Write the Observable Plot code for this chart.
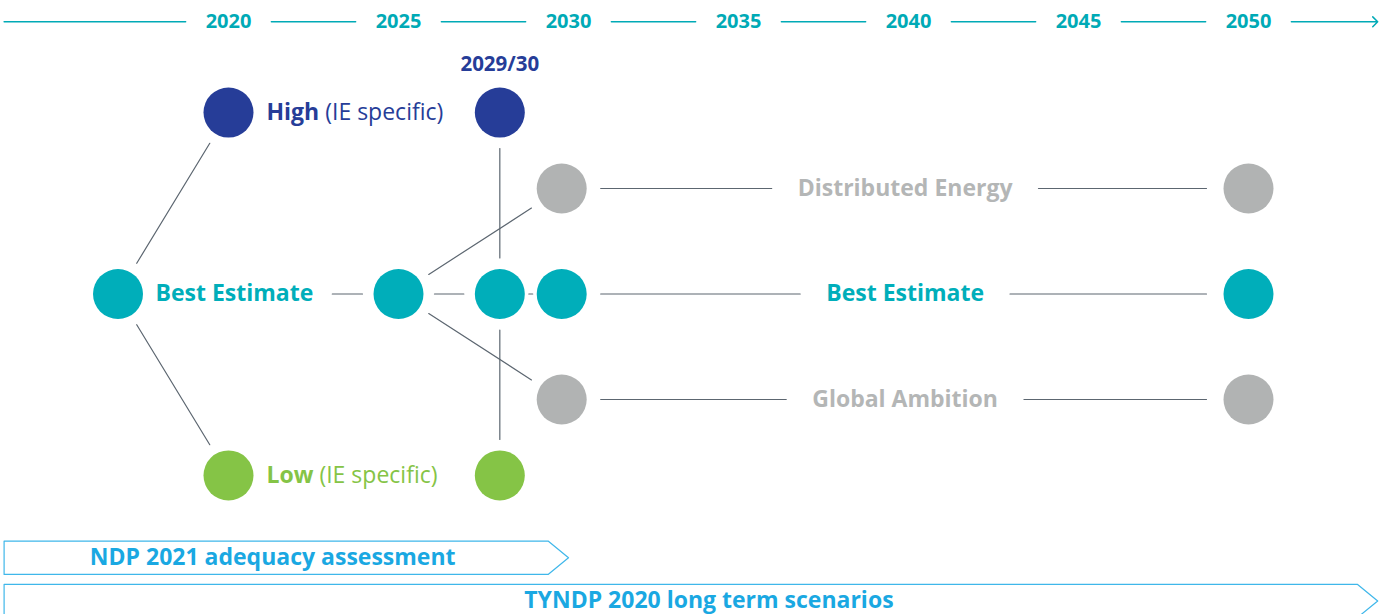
<!DOCTYPE html>
<html>
<head>
<meta charset="utf-8">
<script src="https://cdn.jsdelivr.net/npm/d3@7"></script>
<script src="https://cdn.jsdelivr.net/npm/@observablehq/plot@0.6"></script>
<style>
  html, body { margin: 0; padding: 0; background: #ffffff; overflow: hidden; }
  #chart svg { display: block; }
</style>
</head>
<body>
<div id="chart"></div>
<script>
// ---------- data ----------
const tickYears = [2020, 2025, 2030, 2035, 2040, 2045, 2050];
const timelineStart = 2013.4;
const timelineEnd = 2053.8;
const timelineLevel = 2.58;

// scenario nodes (x = position in years, level = row)
const nodeIds     = ["BE0", "H20", "L20", "BE25", "H29", "BE29", "L29", "DE30", "BE30", "GA30", "DE50", "BE50", "GA50"];
const nodeYears   = [2016.75, 2020, 2020, 2025, 2027.98, 2027.98, 2027.98, 2029.8, 2029.8, 2029.8, 2050, 2050, 2050];
const nodeLevels  = [0, 1.72, -1.72, 0, 1.72, 0, -1.72, 1, 0, -1, 1, 0, -1];
const nodeGroups  = ["best", "high", "low", "best", "high", "best", "low", "grey", "best", "grey", "grey", "best", "grey"];

// connections between nodes
const shortFrom = ["BE0", "BE0", "BE25", "H29", "BE29", "BE25", "BE25"];
const shortTo   = ["H20", "L20", "BE29", "BE29", "L29", "DE30", "GA30"];
const tinyFrom  = ["BE29"];
const tinyTo    = ["BE30"];
const longFrom  = ["DE30", "BE30", "GA30"];
const longTo    = ["DE50", "BE50", "GA50"];
const longLabels = ["Distributed Energy", "Best Estimate", "Global Ambition"];
const longGroups = ["grey", "best", "grey"];

// labels next to nodes
const sideNodes  = ["H20", "L20"];
const sideBold   = ["High", "Low"];
const sideRest   = ["(IE specific)", "(IE specific)"];
const sideGroups = ["high", "low"];
const startLabelNode = "BE0";
const startLabelTarget = "BE25";
const startLabelText = "Best Estimate";
const columnLabelNode = "H29";
const columnLabelText = "2029/30";

// studies / period arrows
const periodLabels = ["NDP 2021 adequacy assessment", "TYNDP 2020 long term scenarios"];
const periodStart  = [2013.4, 2013.4];
const periodEnd    = [2030, 2053.8];
const periodLevels = [-2.5, -2.91];
const periodLabelX = [2021.3, 2034.13];

// ---------- styles ----------
const colors = {best: "#00aeba", high: "#263d98", low: "#85c446", grey: "#b1b3b3"};
const labelColors = {best: "#00aeba", high: "#263d98", low: "#85c446", grey: "#b4b6b6"};
const teal = "#00aab6";
const lineColor = "#5c6670";
const periodStroke = "#3fb7ea";
const periodText = "#1aa8e2";
const font = "'Open Sans', sans-serif";
const labelSize = 23;
const tickSize = 20;

// text measurement (used to leave gaps in lines around labels)
const ctx = document.createElement("canvas").getContext("2d");
function textWidth(s, weight, size) {
  ctx.font = `${weight} ${size}px "Open Sans"`;
  return ctx.measureText(s).width;
}

// ---------- build tables ----------
const nodes = nodeIds.map((id, i) => ({id, x: nodeYears[i], y: nodeLevels[i], group: nodeGroups[i]}));
const byId = Object.fromEntries(nodes.map(d => [d.id, d]));
const mkEdges = (from, to) => from.map((f, i) => ({x1: byId[f].x, y1: byId[f].y, x2: byId[to[i]].x, y2: byId[to[i]].y}));
const shortEdges = mkEdges(shortFrom, shortTo);
const tinyEdges = mkEdges(tinyFrom, tinyTo);
const longEdges = mkEdges(longFrom, longTo).map((e, i) => ({...e, label: longLabels[i], group: longGroups[i]}));

const line = (data, opts) => Plot.arrow(data, {x1: "x1", y1: "y1", x2: "x2", y2: "y2",
  stroke: lineColor, strokeWidth: 1.2, headLength: 0, ...opts});

// timeline segments broken around the year labels
const tlPoints = [timelineStart, ...tickYears, timelineEnd];
const timelineMarks = tlPoints.slice(0, -1).map((a, i) => {
  const b = tlPoints[i + 1];
  const first = i === 0, last = i === tlPoints.length - 2;
  const halfA = first ? 0 : textWidth(String(a), 700, tickSize) / 2 + 20;
  const halfB = last ? 0 : textWidth(String(b), 700, tickSize) / 2 + 20;
  return Plot.arrow([{x1: a, x2: b, y: timelineLevel}], {x1: "x1", x2: "x2", y1: "y", y2: "y",
    stroke: teal, strokeWidth: 1.5, headLength: last ? 7 : 0, headAngle: 90,
    insetStart: halfA, insetEnd: halfB});
});

// long scenario lines broken around their centered labels
const longMarks = longEdges.flatMap(e => {
  const mid = (e.x1 + e.x2) / 2;
  const gap = textWidth(e.label, 700, labelSize) / 2 + 26;
  return [
    line([{x1: e.x1, y1: e.y1, x2: mid, y2: e.y2}], {insetStart: 39, insetEnd: gap}),
    line([{x1: mid, y1: e.y1, x2: e.x2, y2: e.y2}], {insetStart: gap, insetEnd: 42}),
    Plot.text([{x: mid, y: e.y1}], {x: "x", y: "y", text: () => e.label,
      fill: labelColors[e.group], fontWeight: 700, fontSize: labelSize})
  ];
});

// start label + line to next node
const s0 = byId[startLabelNode], s1 = byId[startLabelTarget];
const startGap = 37.5 + textWidth(startLabelText, 700, labelSize) + 19;
const startMarks = [
  line([{x1: s0.x, y1: s0.y, x2: s1.x, y2: s1.y}], {insetStart: startGap, insetEnd: 36}),
  Plot.text([s0], {x: "x", y: "y", text: () => startLabelText, textAnchor: "start", dx: 37.5,
    fill: labelColors.best, fontWeight: 700, fontSize: labelSize})
];

// side labels (bold word + regular remainder)
const sideMarks = sideNodes.flatMap((id, i) => {
  const n = byId[id];
  const dxRest = 38 + textWidth(sideBold[i], 700, labelSize) + textWidth(" ", 400, labelSize);
  return [
    Plot.text([n], {x: "x", y: "y", text: () => sideBold[i], textAnchor: "start", dx: 38,
      fill: labelColors[sideGroups[i]], fontWeight: 700, fontSize: labelSize}),
    Plot.text([n], {x: "x", y: "y", text: () => sideRest[i], textAnchor: "start", dx: dxRest,
      fill: labelColors[sideGroups[i]], fontWeight: 400, fontSize: labelSize})
  ];
});

// period shapes (arrow-like boxes)
const tipYears = 0.6, halfLevel = 0.158;
const periodPoly = periodLabels.flatMap((label, i) => {
  const a = periodStart[i], b = periodEnd[i], c = periodLevels[i];
  return [
    {label, x: a, y: c + halfLevel},
    {label, x: b - tipYears, y: c + halfLevel},
    {label, x: b, y: c},
    {label, x: b - tipYears, y: c - halfLevel},
    {label, x: a, y: c - halfLevel}
  ];
});
const periods = periodLabels.map((label, i) => ({label, x: periodLabelX[i], y: periodLevels[i]}));

const chart = Plot.plot({
  width: 1384,
  height: 614,
  marginTop: 0, marginRight: 0, marginBottom: 0, marginLeft: 0,
  x: {domain: [2020, 2050], range: [228, 1248], axis: null},
  y: {domain: [1, -1], range: [188, 399], axis: null},
  style: {fontFamily: font, background: "white"},
  marks: [
    ...timelineMarks,
    Plot.text(tickYears, {x: d => d, y: () => timelineLevel, text: d => String(d), fill: teal,
      fontWeight: 700, fontSize: tickSize}),

    line(shortEdges, {insetStart: 36, insetEnd: 36}),
    line(tinyEdges, {insetStart: 29, insetEnd: 29}),
    ...longMarks,
    ...startMarks,
    ...sideMarks,

    Plot.text([byId[columnLabelNode]], {x: "x", y: "y", text: () => columnLabelText, dy: -48,
      fill: colors.high, fontWeight: 700, fontSize: 20.5}),

    Plot.dot(nodes, {x: "x", y: "y", r: 25, fill: d => colors[d.group], stroke: null}),

    Plot.line(periodPoly, {x: "x", y: "y", z: "label", curve: "linear-closed", stroke: periodStroke,
      strokeWidth: 1.2, fill: "none"}),
    Plot.text(periods, {x: "x", y: "y", text: "label", fill: periodText, fontWeight: 700, fontSize: labelSize})
  ]
});

document.getElementById("chart").appendChild(chart);
</script>
</body>
</html>
